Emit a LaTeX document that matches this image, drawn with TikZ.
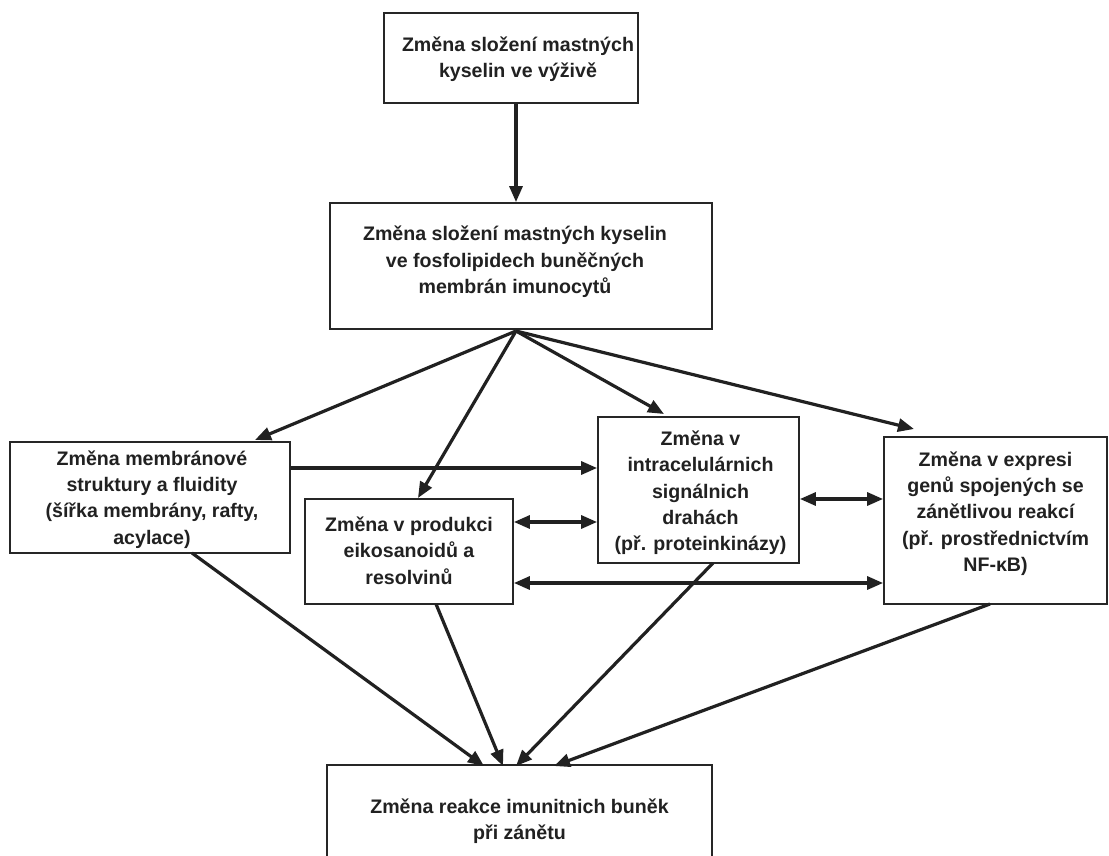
\documentclass[tikz,border=0pt]{standalone}
\usepackage{fontspec}
\setmainfont{Liberation Sans}
\usetikzlibrary{arrows.meta,calc}
\begin{document}
\begin{tikzpicture}[x=1pt,y=-1pt,
  box/.style={draw=black!85,line width=1.8pt,fill=white,inner sep=0pt},
  txt/.style={align=center,inner sep=0pt,font=\fontsize{19.6}{26.3}\selectfont\bfseries,text=black!87},
  arr/.style={line width=3.2pt,draw=black!87,-{Triangle[length=16pt,width=13pt]}},
  darr/.style={line width=3.2pt,draw=black!87,{Triangle[length=16pt,width=13pt]}-{Triangle[length=16pt,width=13pt]}}]
\useasboundingbox (0,0) rectangle (1109,856);
\fill[white] (0,0) rectangle (1109,856);
% boxes
\node[box,minimum width=254pt,minimum height=90pt] (b1) at (511,58) {};
\node[box,minimum width=382pt,minimum height=126pt] (b2) at (521,266) {};
\node[box,minimum width=280pt,minimum height=111pt] (b3) at (150,497.5) {};
\node[box,minimum width=208pt,minimum height=105pt] (b4) at (409,551.5) {};
\node[box,minimum width=201pt,minimum height=146pt] (b5) at (698.5,490) {};
\node[box,minimum width=223pt,minimum height=167pt] (b6) at (995.5,520.5) {};
\node[box,minimum width=385pt,minimum height=115pt] (b7) at (519.5,822.5) {};
% texts
\node[txt] (t1) at ($(b1.center)+(7,1)$) {Změna složení mastných\\kyselin ve výživě};
\node[txt] (t2) at ($(b2.center)+(-6,-4)$) {Změna složení mastných kyselin\\ve fosfolipidech buněčných\\membrán imunocytů};
\node[txt] (t3) at ($(b3.center)+(2,2)$) {Změna membránové\\struktury a fluidity\\(šířka membrány, rafty,\\acylace)};
\node[txt] (t4) at ($(b4.center)+(0,-1)$) {Změna v produkci\\eikosanoidů a\\resolvinů};
\node[txt] (t5) at ($(b5.center)+(2,3)$) {Změna v\\intracelulárnich\\signálnich\\drahách\\(př. proteinkinázy)};
\node[txt] (t6) at ($(b6.center)+(0,-7)$) {Změna v expresi\\genů spojených se\\zánětlivou reakcí\\(př. prostřednictvím\\NF-κB)};
\node[txt] (t7) at ($(b7.center)+(0,-1)$) {Změna reakce imunitnich buněk\\při zánětu};
% coordinates
\coordinate (s2) at (516,331);
% arrows
\draw[arr] (b1.south -| s2) -- (b2.north -| s2);
\draw[arr] (s2) -- (255,440);
\draw[arr] (s2) -- (418,498);
\draw[arr] (s2) -- (664,414);
\draw[arr] (s2) -- (914,429);
\draw[arr] (b3.east |- 0,468) -- (b5.west |- 0,468);
\draw[darr] (b4.east |- 0,522) -- (b5.west |- 0,522);
\draw[darr] (b5.east |- 0,499) -- (b6.west |- 0,499);
\draw[darr] (b4.east |- 0,583) -- (b6.west |- 0,583);
\draw[arr] (192,553) -- (484,766);
\draw[arr] (436,604) -- (503,766);
\draw[arr] (713,563) -- (516,766);
\draw[arr] (990,604) -- (554,766);
\end{tikzpicture}
\end{document}
